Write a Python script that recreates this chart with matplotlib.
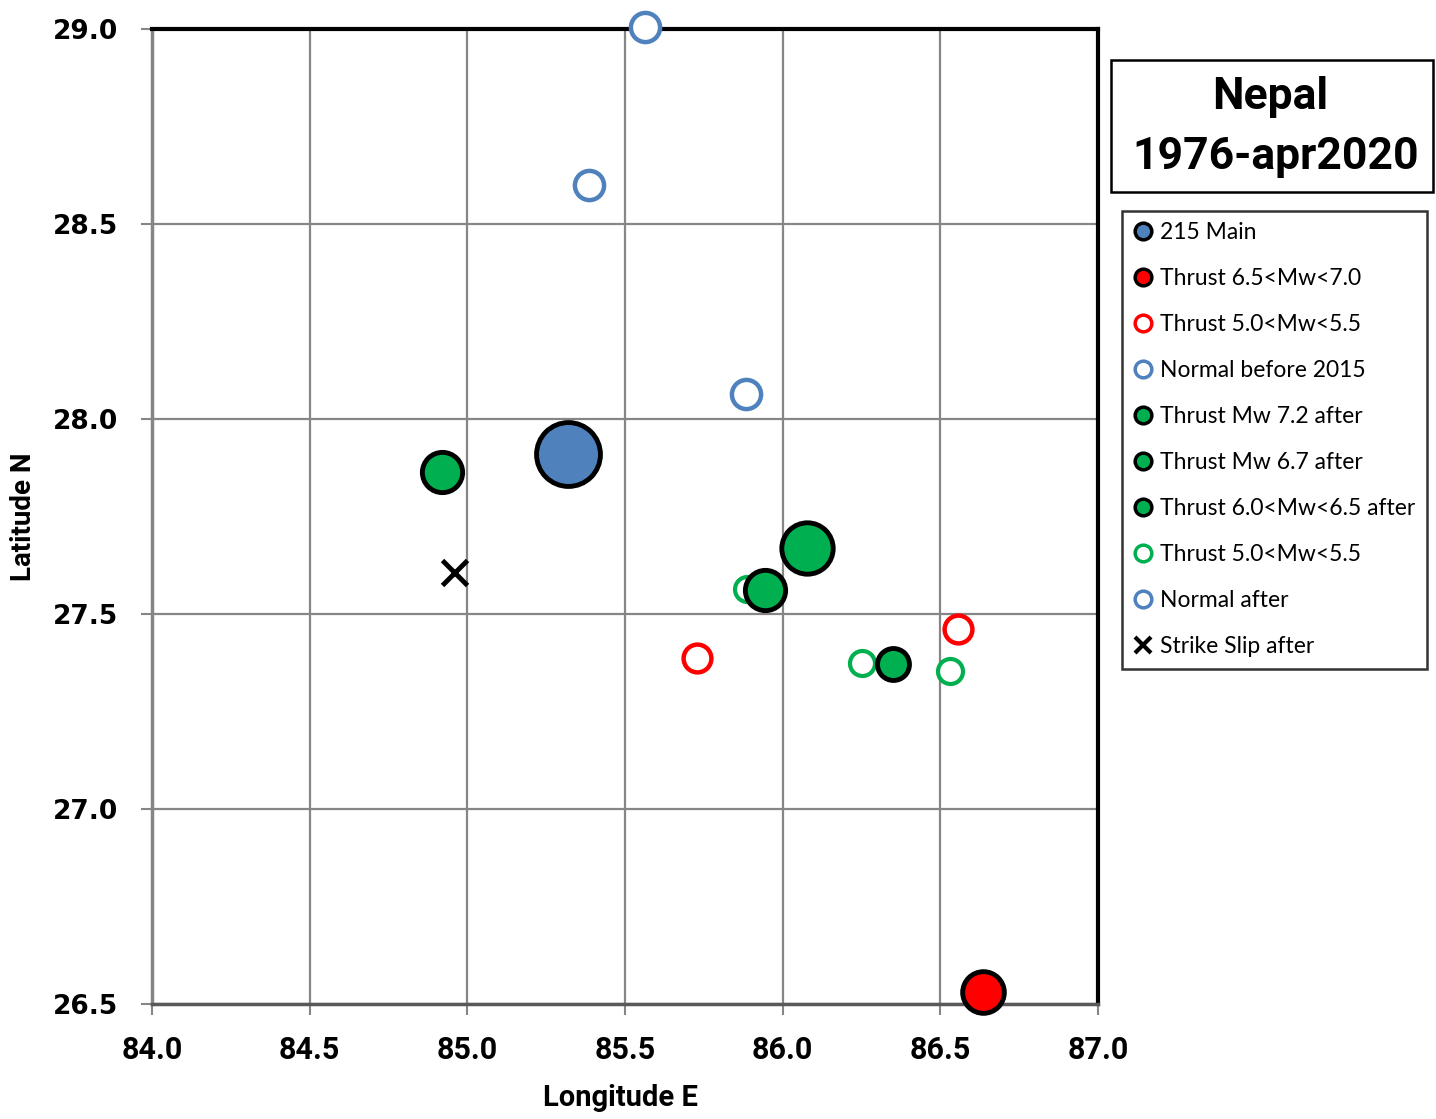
import matplotlib
matplotlib.use("Agg")
import matplotlib.pyplot as plt
from matplotlib.lines import Line2D
from matplotlib.patches import Rectangle

# epicentres (longitude E, latitude N)
main_lon = [85.32]
main_lat = [27.91]

thrust_big_lon = [86.635]
thrust_big_lat = [26.53]

thrust_small_lon = [85.73, 86.555]
thrust_small_lat = [27.387, 27.462]

normal_before_lon = [85.563, 85.386, 85.884]
normal_before_lat = [29.005, 28.60, 28.065]

after72_lon = [86.077]
after72_lat = [27.67]

after67_lon = [85.944]
after67_lat = [27.562]

after60_lon = [84.92, 86.35]
after60_lat = [27.864, 27.372]

after50_lon = [85.887, 86.252, 86.531]
after50_lat = [27.564, 27.374, 27.354]

normal_after_lon = []
normal_after_lat = []

strike_lon = [84.958]
strike_lat = [27.608]

legend_labels = ["215 Main", "Thrust 6.5<Mw<7.0", "Thrust 5.0<Mw<5.5",
                 "Normal before 2015", "Thrust Mw 7.2 after", "Thrust Mw 6.7 after",
                 "Thrust 6.0<Mw<6.5 after", "Thrust 5.0<Mw<5.5", "Normal after",
                 "Strike Slip after"]

BLUE = "#4F81BD"
RED = "#FF0000"
GREEN = "#00B050"
BOLD_FONT = "Roboto"

fig = plt.figure(figsize=(14.36, 11.19), dpi=100)
ax = fig.add_axes([0.1058, 0.1028, 0.6588, 0.8712])

kw = dict(ls="none", marker="o", clip_on=False)
ax.plot(normal_before_lon, normal_before_lat, ms=21, mfc="white", mec=BLUE, mew=3.2, zorder=5, **kw)
ax.plot(thrust_small_lon, thrust_small_lat, ms=20, mfc="white", mec=RED, mew=3.2, zorder=5, **kw)
ax.plot(after50_lon, after50_lat, ms=18, mfc="white", mec=GREEN, mew=3.0, zorder=5, **kw)
ax.plot(main_lon, main_lat, ms=46, mfc=BLUE, mec="black", mew=3.5, zorder=6, **kw)
ax.plot(thrust_big_lon, thrust_big_lat, ms=30, mfc=RED, mec="black", mew=3.5, zorder=6, **kw)
ax.plot(after72_lon, after72_lat, ms=37, mfc=GREEN, mec="black", mew=3.5, zorder=6, **kw)
ax.plot(after67_lon, after67_lat, ms=29, mfc=GREEN, mec="black", mew=3.5, zorder=6, **kw)
ax.plot(after60_lon[:1], after60_lat[:1], ms=29, mfc=GREEN, mec="black", mew=3.5, zorder=6, **kw)
ax.plot(after60_lon[1:], after60_lat[1:], ms=23, mfc=GREEN, mec="black", mew=3.5, zorder=6, **kw)
ax.plot(normal_after_lon, normal_after_lat, ms=20, mfc="white", mec=BLUE, mew=3, **kw)
ax.plot(strike_lon, strike_lat, ls="none", marker="x", ms=18, mec="black", mew=3.5, zorder=6)

ax.set_xlim(84.0, 87.0)
ax.set_ylim(26.5, 29.0)
ax.set_xticks([84.0, 84.5, 85.0, 85.5, 86.0, 86.5, 87.0])
ax.set_yticks([26.5, 27.0, 27.5, 28.0, 28.5, 29.0])
ax.xaxis.set_major_formatter(matplotlib.ticker.FormatStrFormatter("%.1f"))
ax.yaxis.set_major_formatter(matplotlib.ticker.FormatStrFormatter("%.1f"))
ax.grid(True, color="#868686", lw=1.6, zorder=0)
ax.set_axisbelow(True)

ax.tick_params(axis="both", direction="out", length=8, width=1.5, color="#868686")
ax.tick_params(axis="x", pad=14)
ax.tick_params(axis="y", pad=16)
for lab in ax.get_xticklabels():
    lab.set_family(BOLD_FONT)
    lab.set_fontweight("bold")
    lab.set_fontsize(22)
for lab in ax.get_yticklabels():
    lab.set_family("DejaVu Sans")
    lab.set_fontweight("bold")
    lab.set_fontsize(19)

ax.spines["left"].set_color("#868686")
ax.spines["left"].set_linewidth(2.5)
ax.spines["bottom"].set_color("#595959")
ax.spines["bottom"].set_linewidth(2.5)
ax.spines["top"].set_color("black")
ax.spines["top"].set_linewidth(3)
ax.spines["right"].set_color("black")
ax.spines["right"].set_linewidth(3)

ax.set_xlabel("Longitude E", fontsize=21, fontweight="bold", family=BOLD_FONT)
ax.xaxis.set_label_coords(0.495, -0.082)
ax.set_ylabel("Latitude N", fontsize=20, fontweight="bold", family=BOLD_FONT)
ax.yaxis.set_label_coords(-0.122, 0.5)

# title box
fig.patches.append(Rectangle((0.7735, 0.8284), 0.2242, 0.118, transform=fig.transFigure,
                             fill=False, ec="black", lw=1.8))
fig.text(0.8844, 0.9133, "Nepal", ha="center", va="center", fontsize=32,
         fontweight="bold", family=BOLD_FONT)
fig.text(0.8886, 0.8597, "1976-apr2020", ha="center", va="center", fontsize=32,
         fontweight="bold", family=BOLD_FONT)

# legend
hk = dict(ls="none", marker="o", ms=12)
handles = [
    Line2D([], [], mfc=BLUE, mec="black", mew=2.5, **hk),
    Line2D([], [], mfc=RED, mec="black", mew=2.5, **hk),
    Line2D([], [], mfc="white", mec=RED, mew=2.5, **hk),
    Line2D([], [], mfc="white", mec=BLUE, mew=2.5, **hk),
    Line2D([], [], mfc=GREEN, mec="black", mew=2.5, **hk),
    Line2D([], [], mfc=GREEN, mec="black", mew=2.5, **hk),
    Line2D([], [], mfc=GREEN, mec="black", mew=2.5, **hk),
    Line2D([], [], mfc="white", mec=GREEN, mew=2.5, **hk),
    Line2D([], [], mfc="white", mec=BLUE, mew=2.5, **hk),
    Line2D([], [], ls="none", marker="x", ms=12, mec="black", mew=3),
]
leg = fig.legend(handles, legend_labels, loc="upper left",
                 bbox_to_anchor=(0.7815, 0.8115), frameon=True, fancybox=False,
                 prop={"family": "Lato", "size": 16.5}, labelspacing=1.09,
                 handlelength=0.8, handletextpad=0.35, borderpad=0.5,
                 borderaxespad=0)
leg.get_frame().set_edgecolor("black")
leg.get_frame().set_linewidth(1.8)

fig.savefig("out.png", dpi=100)
